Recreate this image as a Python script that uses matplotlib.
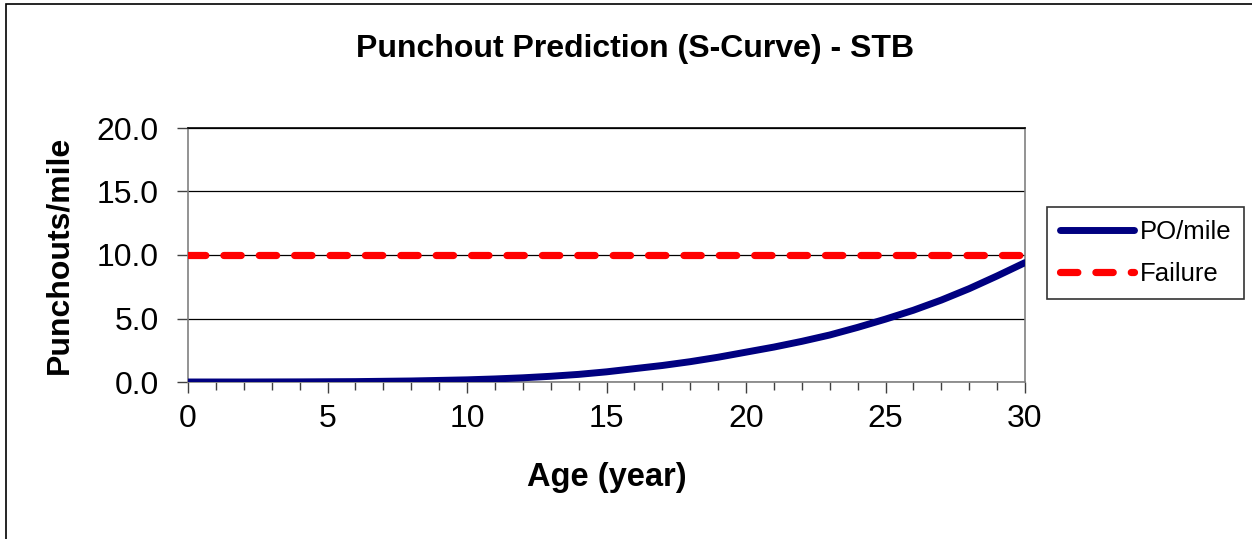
import numpy as np
import matplotlib
matplotlib.use("Agg")
import matplotlib.pyplot as plt
from matplotlib.patches import Rectangle
from matplotlib.ticker import MultipleLocator, FormatStrFormatter

plt.rcParams["font.family"] = ["Liberation Sans", "DejaVu Sans"]

# values
age = [0, 2, 4, 6, 8, 10, 11, 12, 13, 14, 15, 16, 17, 18, 19, 20,
       21, 22, 23, 24, 25, 26, 27, 28, 29, 30]
po_mile = [0.0, 0.0, 0.01, 0.03, 0.08, 0.17, 0.24, 0.33, 0.45, 0.6, 0.8, 1.05,
           1.3, 1.6, 1.95, 2.35, 2.75, 3.2, 3.7, 4.3, 4.95, 5.65, 6.45, 7.35, 8.35, 9.4]
failure_age = [0, 30]
failure = [10.0, 10.0]

fig = plt.figure(figsize=(12.52, 5.39), dpi=100)
ax = fig.add_axes([188 / 1252, 1 - 382 / 539, (1025 - 188) / 1252, (382 - 128) / 539])

# outer chart border (only left/top visible in the reference)
fig.patches.append(Rectangle((6 / 1252, -0.1), 1.2, 1 - 4 / 539 + 0.1, transform=fig.transFigure,
                             fill=False, edgecolor="black", linewidth=1.2))

ax.plot(age, po_mile, color="#000080", linewidth=5, solid_capstyle="round", label="PO/mile", zorder=3)
ax.plot(failure_age, failure, color="#ff0000", linewidth=5.2, dashes=(2.4, 2.5),
        dash_capstyle="round", label="Failure", zorder=3)

ax.set_xlim(0, 30)
ax.set_ylim(0, 20)
ax.xaxis.set_major_locator(MultipleLocator(5))
ax.xaxis.set_minor_locator(MultipleLocator(1))
ax.yaxis.set_major_locator(MultipleLocator(5))
ax.yaxis.set_major_formatter(FormatStrFormatter("%.1f"))
ax.grid(axis="y", color="black", linewidth=0.9)
ax.set_axisbelow(True)
for s in ax.spines.values():
    s.set_color("#808080")
    s.set_linewidth(1.2)
ax.spines["top"].set_color("black")
ax.tick_params(axis="both", which="major", direction="out", length=8, width=1, color="#404040",
               labelsize=23)
ax.tick_params(axis="y", which="major", pad=13)
ax.tick_params(axis="x", which="major", pad=8)
ax.tick_params(axis="x", which="minor", direction="out", length=5.5, width=1, color="#404040")

ax.set_xlabel("Age (year)", fontsize=23.5, fontweight="bold", labelpad=20)
ax.set_ylabel("Punchouts/mile", fontsize=23, fontweight="bold", labelpad=16)
fig.text(635 / 1252, 1 - 49 / 539, "Punchout Prediction (S-Curve) - STB", ha="center", va="center",
         fontsize=23, fontweight="bold")

leg = ax.legend(loc="upper left", bbox_to_anchor=(1047 / 1252, 1 - 207 / 539), bbox_transform=fig.transFigure,
                fontsize=18.5, frameon=True, fancybox=False, edgecolor="black", handlelength=2.9,
                handletextpad=0.2, borderpad=0.5, labelspacing=0.72, borderaxespad=0)
leg.get_frame().set_linewidth(1.2)

fig.savefig("out.png", dpi=100)
